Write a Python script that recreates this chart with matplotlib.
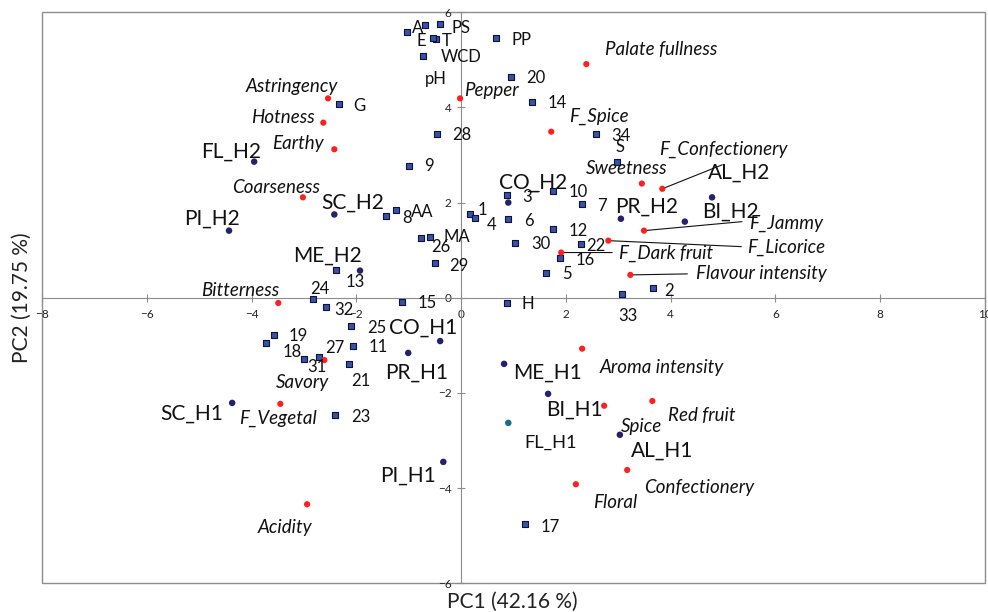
import matplotlib
matplotlib.use("Agg")
import matplotlib.pyplot as plt
from matplotlib.patches import Rectangle
from matplotlib.transforms import offset_copy

plt.rcParams['font.family'] = ['Lato', 'DejaVu Sans']

# chemical / numbered variables (blue squares)
attr_names = ['A', 'PS', 'E', 'T', 'WCD', 'pH', 'PP', '20', '14', 'G', '28', '34',
              'S', '9', '3', '10', '7', '8', 'AA', '1', '4', '6', '12', '26', 'MA',
              '30', '22', '16', '29', '5', '13', '2', '33', '24', '15', 'H', '32',
              '25', '19', '18', '11', '27', '31', '21', '23', '17']
attr_pc1 = [-1.03, -0.40, -0.69, -0.48, -0.53, -0.73, 0.67, 0.95, 1.35, -2.33, -0.46, 2.58,
            2.98, -0.99, 0.88, 1.76, 2.31, -1.43, -1.24, 0.17, 0.27, 0.90, 1.76, -0.76, -0.59,
            1.03, 2.29, 1.89, -0.50, 1.62, -2.39, 3.66, 3.07, -2.82, -1.13, 0.88, -2.58,
            -2.10, -3.57, -3.72, -2.06, -2.71, -3.00, -2.14, -2.40, 1.22]
attr_pc2 = [5.58, 5.75, 5.73, 5.43, 5.45, 5.07, 5.45, 4.63, 4.11, 4.08, 3.45, 3.45,
            2.86, 2.76, 2.15, 2.25, 1.96, 1.71, 1.85, 1.77, 1.68, 1.66, 1.45, 1.26, 1.28,
            1.16, 1.12, 0.84, 0.72, 0.53, 0.59, 0.21, 0.08, -0.02, -0.08, -0.11, -0.19,
            -0.59, -0.78, -0.95, -1.01, -1.24, -1.28, -1.39, -2.46, -4.76]

# sensory descriptors (red)
desc_names = ['Palate fullness', 'Pepper', 'Astringency', 'Hotness', 'F_Spice', 'Earthy',
              'Sweetness', 'F_Confectionery', 'Coarseness', 'F_Jammy', 'F_Licorice',
              'F_Dark fruit', 'Flavour intensity', 'Bitterness', 'Savory', 'Aroma intensity',
              'F_Vegetal', 'Spice', 'Red fruit', 'Confectionery', 'Floral', 'Acidity']
desc_pc1 = [2.39, -0.02, -2.54, -2.63, 1.72, -2.42, 3.45, 3.84, -3.02, 3.49, 2.81,
            1.91, 3.23, -3.49, -2.61, 2.31, -3.45, 2.73, 3.65, 3.17, 2.19, -2.94]
desc_pc2 = [4.91, 4.19, 4.19, 3.68, 3.49, 3.12, 2.40, 2.29, 2.11, 1.41, 1.20,
            0.95, 0.48, -0.11, -1.31, -1.07, -2.23, -2.27, -2.17, -3.62, -3.92, -4.34]

# wines (navy)
sample_names = ['FL_H2', 'SC_H2', 'PI_H2', 'CO_H2', 'PR_H2', 'BI_H2', 'AL_H2', 'ME_H2',
                'CO_H1', 'PR_H1', 'ME_H1', 'SC_H1', 'BI_H1', 'FL_H1', 'AL_H1', 'PI_H1']
sample_pc1 = [-3.95, -2.42, -4.43, 0.90, 3.05, 4.27, 4.79, -1.93,
              -0.40, -1.01, 0.82, -4.37, 1.66, 0.90, 3.03, -0.34]
sample_pc2 = [2.86, 1.75, 1.41, 2.00, 1.66, 1.60, 2.11, 0.57,
              -0.91, -1.16, -1.39, -2.21, -2.02, -2.63, -2.88, -3.45]

# label placement, pixel offsets from each marker
label_offset = {
    'A': (10, 4), 'PS': (21, -4), 'E': (-4, -16), 'T': (11, -2), 'WCD': (28, -19),
    'pH': (13, -23), 'PP': (25, -2), '20': (25, -1), '14': (25, -1), 'G': (20, -2),
    '28': (25, -1), '34': (25, -2), 'S': (3, 15), '9': (20, 0), '3': (20, -2),
    '10': (25, -1), '7': (20, -2), '8': (21, -2), 'AA': (26, -2), '1': (12, 4),
    '4': (16, -7), '6': (21, -2), '12': (25, -2), '26': (20, -9), 'MA': (27, 0),
    '30': (26, -1), '22': (15, -2), '16': (25, -2), '29': (24, -3), '5': (21, -1),
    '13': (19, -12), '2': (16, -3), '33': (6, -22), '24': (6, 10), '15': (25, -1),
    'H': (21, -1), '32': (18, -3), '25': (26, -2), '19': (24, -1), '18': (26, -9),
    '11': (25, -1), '27': (16, 9), '31': (13, -8), '21': (12, -17), '23': (25, -2),
    '17': (25, -3),
    'Palate fullness': (75, 15), 'Pepper': (31, 8), 'Astringency': (-36, 12),
    'Hotness': (-40, 5), 'F_Spice': (48, 15), 'Earthy': (-36, 6), 'Sweetness': (-15, 15),
    'F_Confectionery': (61, 39), 'Coarseness': (-27, 10), 'F_Jammy': (142, 7),
    'F_Licorice': (178, -7), 'F_Dark fruit': (105, -1), 'Flavour intensity': (131, 1),
    'Bitterness': (-38, 12), 'Savory': (-22, -22), 'Aroma intensity': (80, -19),
    'F_Vegetal': (-2, -15), 'Spice': (37, -21), 'Red fruit': (49, -15),
    'Confectionery': (72, -18), 'Floral': (39, -18), 'Acidity': (-22, -23),
    'FL_H2': (-23, 10), 'SC_H2': (18, 12), 'PI_H2': (-17, 12), 'CO_H2': (25, 20),
    'PR_H2': (26, 12), 'BI_H2': (46, 10), 'AL_H2': (27, 25), 'ME_H2': (-33, 15),
    'CO_H1': (-17, 13), 'PR_H1': (8, -20), 'ME_H1': (43, -9), 'SC_H1': (-40, -11),
    'BI_H1': (26, -16), 'FL_H1': (42, -20), 'AL_H1': (42, -16), 'PI_H1': (-35, -14),
}

# leader lines: (start dx, start dy, end dx, end dy) in pixels from the marker
leaders = {
    'F_Confectionery': (0, 0, 60, 24),
    'F_Jammy': (0, 0, 98, 9),
    'F_Licorice': (0, 0, 133, -6),
    'F_Dark fruit': (0, 0, 51, 0),
    'Flavour intensity': (0, 0, 57, 1),
    'CO_H2': (20, 11, 31, 11),
}

fig = plt.figure(figsize=(9.88, 6.12), dpi=100)
ax = fig.add_axes([0.0425, 0.047, 0.9545, 0.933])
ax.set_xlim(-8, 10)
ax.set_ylim(-6, 6)

grey = '#8c8c8c'
for side in ['top', 'right']:
    ax.spines[side].set_visible(False)
ax.spines['left'].set_position('zero')
ax.spines['bottom'].set_position('zero')
ax.spines['left'].set_color(grey)
ax.spines['bottom'].set_color(grey)
ax.add_patch(Rectangle((0, 0), 1, 1, transform=ax.transAxes, fill=False,
                       edgecolor=grey, lw=1.0, clip_on=False, zorder=0))

ax.set_xticks(range(-8, 11, 2))
ax.set_yticks(range(-6, 7, 2))
ax.tick_params(axis='both', direction='inout', length=6, color=grey,
               labelsize=8.5, labelcolor='#222222')
ax.tick_params(axis='x', pad=5)
ax.tick_params(axis='y', pad=4)

ax.scatter(attr_pc1, attr_pc2, marker='s', s=24, c='#3554a8', edgecolors='#10103a',
           linewidths=0.8, zorder=3)
ax.scatter(desc_pc1, desc_pc2, marker='o', s=20, c='#ff1f1f', edgecolors='none', zorder=3)
sample_cols = ['#1c6a93' if n == 'FL_H1' else '#22226e' for n in sample_names]
ax.scatter(sample_pc1, sample_pc2, marker='o', s=22, c=sample_cols, edgecolors='none', zorder=3)

for name, seg in leaders.items():
    if name in desc_names:
        i = desc_names.index(name)
        x, y = desc_pc1[i], desc_pc2[i]
    else:
        i = sample_names.index(name)
        x, y = sample_pc1[i], sample_pc2[i]
    start = offset_copy(ax.transData, fig=fig, x=seg[0], y=seg[1], units='dots')
    ax.annotate('', xy=(x, y), xycoords=start,
                xytext=(seg[2] - seg[0], seg[3] - seg[1]), textcoords='offset pixels',
                arrowprops=dict(arrowstyle='-', lw=0.8, color='#111111',
                                shrinkA=0, shrinkB=0), zorder=2)


def put_labels(names, xs, ys, size, style='normal'):
    for n, x, y in zip(names, xs, ys):
        fs = size * 0.88 if n == 'FL_H1' else size
        ax.annotate(n, (x, y), xytext=label_offset[n], textcoords='offset pixels',
                    ha='center', va='center', fontsize=fs, fontstyle=style,
                    color='#111111', zorder=4)


put_labels(attr_names, attr_pc1, attr_pc2, 12)
put_labels(desc_names, desc_pc1, desc_pc2, 13.5, 'italic')
put_labels(sample_names, sample_pc1, sample_pc2, 15)

fig.text(0.519, 0.016, 'PC1 (42.16 %)', ha='center', va='center', fontsize=15, color='#222222')
fig.text(0.022, 0.513, 'PC2 (19.75 %)', ha='center', va='center', fontsize=15,
         rotation=90, color='#222222')

fig.savefig('out.png', dpi=100)
